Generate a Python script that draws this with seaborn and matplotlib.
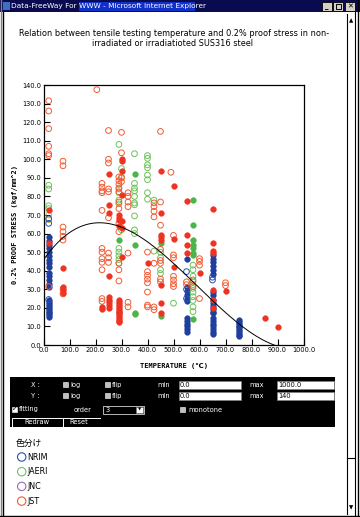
import numpy as np
import pandas as pd
import matplotlib
matplotlib.use("Agg")
import matplotlib.pyplot as plt
from matplotlib.patches import Rectangle, Circle
import seaborn as sns

# ---------------- data ----------------
# stress values (kgf/mm^2) grouped by test temperature (deg C)
NRIM_FILLED = {
    20: [15, 16, 17, 18, 19, 20, 21, 22, 23, 24, 31, 33, 35, 37, 39,
         42, 44, 46, 48, 50, 52, 54, 56, 58],
    550: [46.5, 31, 29, 27, 25, 23.5, 14.5, 13, 11.5, 10, 8.5, 7],
    650: [48.5, 46.5, 44.5, 42.5, 40.5, 38.5, 28.5, 27, 24, 22.5, 21, 19.5,
          18, 17, 14.5, 13, 11.5, 10, 8.5, 7, 6],
    750: [13.5, 12.5, 11.5, 10.5, 9.5, 8.5, 7.5, 6.5, 5.5, 5],
}
NRIM_OPEN = {20: [24.5, 65.5, 68], 550: [39.5, 30, 25], 650: [36.5, 35]}
JAERI_OPEN = {
    20: [86, 84, 75, 73.5],
    290: [108, 84, 82, 78, 76, 52, 50, 48, 46, 44],
    300: [95, 90.5, 62],
    350: [103, 87, 84.5, 83, 80, 76.5, 75.5, 69.5, 62, 60],
    400: [102, 100.5, 97, 95.5, 91.5, 89, 82, 78.5],
    425: [78, 50.5],
    450: [50, 47, 40.5, 38.5],
    500: [22.5],
    575: [43, 40.5, 37, 34, 32.5, 30.5, 28.5, 26, 24, 20.5, 18],
}
JAERI_FILLED = {290: [56.5, 18], 350: [92, 54, 17.5, 16.5], 450: [55, 15.5],
                575: [78, 64.5, 56.5, 54, 52, 49.5, 48.5, 14]}
JNC_OPEN = {20: [70, 67.5]}
JST_OPEN = {
    20: [131.5, 126, 116.5, 107, 103, 102, 31.5],
    75: [99, 96.5, 63.5, 61, 58.5, 56.5, 30, 27.5],
    205: [137.5],
    225: [87, 85, 83, 82, 72.5, 52, 50, 46.5, 44.5, 40.5, 25, 23.5],
    250: [115.5, 100, 98, 84, 82.5, 68.5, 49.5, 47, 44.5],
    290: [90.5, 88.5, 86.5, 84.5, 82.5, 77, 73.5, 65.5, 61, 44, 40.5, 34.5],
    300: [114.5, 103.5, 90, 88],
    325: [82, 80, 77, 74.5, 49.5, 23, 20.5],
    400: [50, 39.5, 37.5, 35.5, 33.5, 28.5, 21.5, 20.5],
    425: [76.5, 74.5, 72, 69, 44, 20.5, 19],
    450: [115, 77, 64.5, 51.5, 45.5, 44, 35.5, 34],
    490: [93],
    500: [59, 48.5, 47, 37, 35, 33, 31.5],
    550: [34, 32.5],
    575: [35, 31.5],
    600: [46.5, 45, 43, 25],
    700: [33.5, 32],
}
JST_FILLED = {
    20: [55, 72.5],
    75: [41.5, 31, 29.5, 28],
    225: [20.5, 19.5],
    250: [92, 75.5, 71, 37, 26, 24.5, 23, 21.5, 20],
    290: [70, 68.5, 67.5, 64, 24, 23, 22, 21, 20, 19, 18, 17, 16, 15, 14, 13, 12.5],
    300: [100, 99, 93.5, 81, 67, 63, 47.5],
    400: [44],
    450: [93.5, 71, 59, 58, 56.5, 32.5, 22.5, 17.5],
    500: [85.5, 57, 42],
    550: [77.5, 59, 54, 49.5],
    600: [39],
    650: [73, 55, 50.5, 49.5, 29.5, 24.5, 20],
    700: [29],
    850: [14.5],
    900: [9.5],
}
# fitted curve (order 3) read at a few temperatures
CURVE_T = [0, 25, 89, 200, 294, 410, 525, 589, 653, 717, 781, 845, 903]
CURVE_S = [46.1, 50.2, 60, 64.6, 63.5, 55.6, 40.5, 32.3, 24.2, 15.2, 7.2, 2.3, 0]

X_TICKS = [0, 100, 200, 300, 400, 500, 600, 700, 800, 900, 1000]
Y_TICKS = [0, 10, 20, 30, 40, 50, 60, 70, 80, 90, 100, 110, 120, 130, 140]
LEGEND = ["NRIM", "JAERI", "JNC", "JST"]

COLORS = {"NRIM": "#1f3f9f", "JAERI": "#4cb54a", "JNC": "#d2c21e", "JST": "#ee3322"}
OPEN_COLORS = {"NRIM": "#2a4db5", "JAERI": "#6cc25a", "JNC": "#c9c020", "JST": "#f25a32"}
LEGEND_COLORS = {"NRIM": "#2a4db5", "JAERI": "#6cc25a", "JNC": "#9a6ab8", "JST": "#f25a32"}


def rows(org, filled, table):
    out = []
    for t, vals in table.items():
        for v in vals:
            out.append({"T": t, "S": v, "org": org, "filled": filled})
    return out


records = (rows("NRIM", True, NRIM_FILLED) + rows("NRIM", False, NRIM_OPEN)
           + rows("JAERI", False, JAERI_OPEN) + rows("JAERI", True, JAERI_FILLED)
           + rows("JNC", False, JNC_OPEN)
           + rows("JST", False, JST_OPEN) + rows("JST", True, JST_FILLED))
df = pd.DataFrame(records)

# ---------------- figure ----------------
W, H = 360, 517
fig = plt.figure(figsize=(W / 100, H / 100), dpi=100)
fig.patch.set_facecolor("white")

bg = fig.add_axes([0, 0, 1, 1])
bg.set_xlim(0, W)
bg.set_ylim(H, 0)
bg.axis("off")

# window chrome
bg.add_patch(Rectangle((0, 0), W, 12, color="#0a0a50", lw=0))
bg.add_patch(Rectangle((79, 1.5), 116, 9, color="#1030c8", lw=0))
bg.add_patch(Rectangle((2.5, 2), 7, 8, color="#3a70c0", lw=0))
bg.text(11, 6.3, "Data-FreeWay For WWW - Microsoft Internet Explorer", color="white",
        fontsize=5.3, va="center", ha="left")
for bx in (322, 333, 345):
    bg.add_patch(Rectangle((bx, 2), 10, 8.5, facecolor="#d4d0c8", edgecolor="black", lw=0.6))
bg.text(327, 7.5, "_", fontsize=5, ha="center", va="center", fontweight="bold")
bg.add_patch(Rectangle((335.5, 4), 5, 4.5, facecolor="none", edgecolor="black", lw=0.7))
bg.text(350, 6.5, "✕", fontsize=5, ha="center", va="center", fontweight="bold")

bg.plot([2.5, 2.5], [12, 515], color="black", lw=1)
bg.plot([0.5, 0.5], [0, 517], color="#808080", lw=1)
bg.plot([347, 347], [14, 514], color="black", lw=0.8)
bg.plot([355, 355], [12, 515], color="black", lw=0.8)
bg.plot([357.5, 357.5], [0, 517], color="black", lw=1)
bg.plot([0, W], [515.5, 515.5], color="black", lw=1)
bg.plot([347, 355], [458, 458], color="black", lw=0.8)
bg.text(350.8, 21, "▲", fontsize=4, ha="center", va="center")
bg.text(350.8, 508, "▼", fontsize=4, ha="center", va="center")

# page title
bg.text(174, 33, "Relation between tensile testing temperature and 0.2% proof stress in non-",
        fontsize=5.9, ha="center", va="center")
bg.text(172, 43.5, "irradiated or irradiatioted SUS316 steel", fontsize=5.9,
        ha="center", va="center")

# control panel
bg.add_patch(Rectangle((10, 377), 325, 50, color="black", lw=0))
fs = 4.8
for yy, lab, mx in ((385, "X :", "1000.0"), (396, "Y :", "140")):
    bg.text(35, yy, lab, color="white", fontsize=fs, ha="center", va="center")
    for cx, word in ((63, "log"), (105, "flip")):
        bg.add_patch(Rectangle((cx, yy - 2.8), 5, 5, facecolor="#c0c0c0", edgecolor="white", lw=0.4))
        bg.text(cx + 7, yy, word, color="white", fontsize=fs, va="center")
    bg.text(157, yy, "min", color="white", fontsize=fs, va="center")
    bg.add_patch(Rectangle((179, yy - 4.3), 62, 8.5, facecolor="white", edgecolor="#808080", lw=0.5))
    bg.text(180, yy, "0.0", fontsize=fs, va="center")
    bg.text(249, yy, "max", color="white", fontsize=fs, va="center")
    bg.add_patch(Rectangle((277, yy - 4.3), 57, 8.5, facecolor="white", edgecolor="#808080", lw=0.5))
    bg.text(278, yy, mx, fontsize=fs, va="center")
bg.add_patch(Rectangle((12, 407), 5, 5, facecolor="white", edgecolor="white", lw=0.4))
bg.text(14.5, 409.5, "✓", fontsize=5, ha="center", va="center")
bg.text(19, 409.5, "fitting", color="white", fontsize=fs, va="center")
bg.text(74, 409.5, "order", color="white", fontsize=fs, va="center")
bg.add_patch(Rectangle((103, 405.5), 41, 8.5, facecolor="black", edgecolor="white", lw=0.5))
bg.text(106, 409.5, "3", color="white", fontsize=fs, va="center")
bg.add_patch(Rectangle((136, 406.5), 7, 6.5, facecolor="white", edgecolor="#808080", lw=0.4))
bg.text(139.5, 409.5, "▼", fontsize=3, ha="center", va="center")
bg.add_patch(Rectangle((180, 407), 5, 5, facecolor="#c0c0c0", edgecolor="white", lw=0.4))
bg.text(188, 409.5, "monotone", color="white", fontsize=fs, va="center")
bg.plot([12, 12, 62], [427, 418, 418], color="white", lw=0.7)
bg.plot([63, 63, 100], [427, 418, 418], color="white", lw=0.7)
bg.text(37, 422.5, "Redraw", color="white", fontsize=fs, ha="center", va="center")
bg.text(79, 422.5, "Reset", color="white", fontsize=fs, ha="center", va="center")

# colour legend
bg.text(16, 443, "色分け", fontsize=6.3, ha="left", va="center",
        family=["Noto Sans CJK JP", "DejaVu Sans"])
for i, name in enumerate(LEGEND):
    yy = 457 + i * 14.7
    bg.add_patch(Circle((21.7, yy), 4.2, facecolor="white", edgecolor=LEGEND_COLORS[name], lw=0.8))
    bg.text(27.5, yy, name, fontsize=5.8, ha="left", va="center")

# ---------------- scatter plot ----------------
ax = fig.add_axes([43.5 / W, 1 - 345 / H, 260 / W, 260 / H])
for (org, filled), sub in df.groupby(["org", "filled"]):
    if filled:
        sns.scatterplot(data=sub, x="T", y="S", ax=ax, marker="o", s=17,
                        color=COLORS[org], edgecolor=COLORS[org], linewidth=0.3,
                        legend=False, zorder=3 if org != "NRIM" else 2)
    else:
        sns.scatterplot(data=sub, x="T", y="S", ax=ax, marker="o", s=17,
                        facecolor="none", edgecolor=OPEN_COLORS[org], linewidth=0.7,
                        legend=False, zorder=3)

coef = np.polyfit(CURVE_T, CURVE_S, 3)
tt = np.linspace(0, 903, 200)
ax.plot(tt, np.polyval(coef, tt), color="black", lw=0.7, zorder=4)

ax.set_xlim(0, 1000)
ax.set_ylim(0, 140)
ax.set_xticks(X_TICKS)
ax.set_yticks(Y_TICKS)
ax.set_xticklabels([f"{v:.1f}" for v in X_TICKS], fontsize=4.8)
ax.set_yticklabels([f"{v:.1f}" for v in Y_TICKS], fontsize=4.8)
ax.tick_params(direction="in", length=4, width=0.8, pad=1.5, colors="black")
for sp in ax.spines.values():
    sp.set_linewidth(0.9)
    sp.set_color("black")
ax.set_xlabel("")
ax.set_ylabel("")
fig.text(173.5 / W, 1 - 366 / H, "TEMPERATURE (℃)", fontsize=5, fontweight="bold",
         ha="center", va="center", family=["DejaVu Sans Mono", "DejaVu Sans"])
fig.text(15 / W, 1 - 225 / H, "0.2% PROOF STRESS (kgf/mm^2)", fontsize=5, fontweight="bold",
         ha="center", va="center", rotation=90, family=["DejaVu Sans Mono", "DejaVu Sans"])

fig.savefig("out.png", dpi=100)
